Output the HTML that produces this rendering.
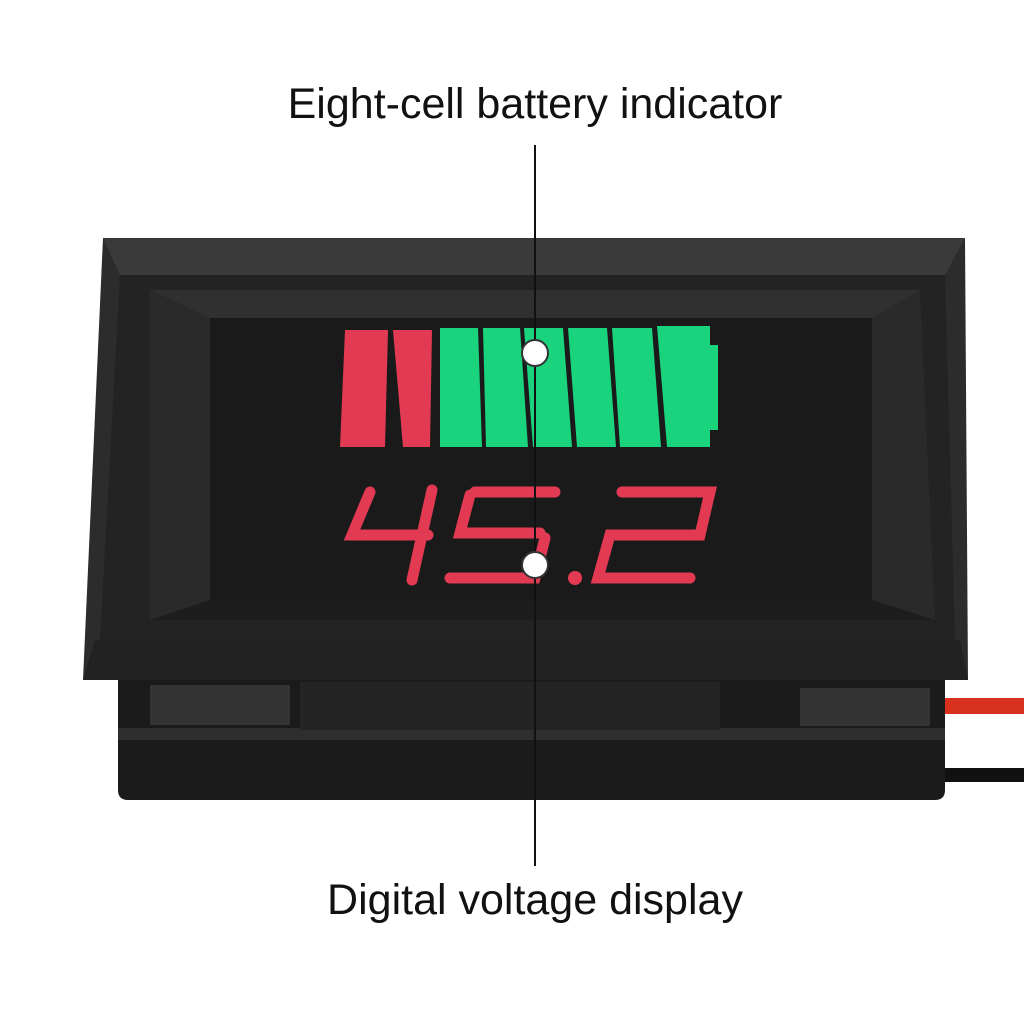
<!DOCTYPE html>
<html><head><meta charset="utf-8"><style>
html,body{margin:0;padding:0;background:#fff;}
.t{position:absolute;left:0;width:1070px;text-align:center;font-family:"Liberation Sans",sans-serif;font-size:43px;color:#111;letter-spacing:0px}
</style></head><body>
<div style="position:relative;width:1024px;height:1024px;overflow:hidden">
<svg width="1024" height="1024" style="position:absolute;left:0;top:0">
<rect x="930" y="698" width="100" height="16" fill="#d8321e"/>
<rect x="930" y="768" width="100" height="14" fill="#111"/>
<path d="M118 680 L945 680 L945 790 Q945 800 935 800 L128 800 Q118 800 118 790 Z" fill="#1b1b1b"/>
<rect x="118" y="728" width="827" height="12" fill="#2e2e2e"/>
<rect x="300" y="682" width="420" height="48" fill="#242424"/>
<rect x="150" y="685" width="140" height="40" fill="#333"/>
<rect x="800" y="688" width="130" height="38" fill="#333"/>
<path d="M103 238 L965 238 L968 680 L83 680 Z" fill="#2c2c2c"/>
<path d="M103 238 L965 238 L945 275 L120 275 Z" fill="#3a3a3a"/>
<path d="M95 640 L960 640 L968 680 L83 680 Z" fill="#222"/>
<path d="M120 275 L945 275 L955 640 L100 640 Z" fill="#232323"/>
<path d="M150 290 L920 290 L872 318 L210 318 Z" fill="#303030"/>
<path d="M150 290 L210 318 L210 600 L150 620 Z" fill="#2a2a2a"/>
<path d="M920 290 L872 318 L872 600 L935 620 Z" fill="#2a2a2a"/>
<path d="M210 600 L872 600 L935 620 L150 620 Z" fill="#1d1d1d"/>
<rect x="210" y="318" width="662" height="282" fill="#1a1a1a"/>
<g fill="#e23a52">
<path d="M345 330 L388 330 L385 447 L340 447 Z"/>
<path d="M393 330 L432 330 L430 447 L403 447 Z"/>
</g>
<g fill="#19d37d">
<path d="M440 328 L478 328 L482 447 L440 447 Z"/>
<path d="M483 328 L520 328 L528 447 L486 447 Z"/>
<path d="M524 328 L563 328 L572 447 L533 447 Z"/>
<path d="M568 328 L607 328 L616 447 L577 447 Z"/>
<path d="M612 328 L652 328 L661 447 L620 447 Z"/>
<path d="M657 326 L710 326 L710 345 L718 345 L718 430 L710 430 L710 447 L667 447 Z"/>
</g>
<g stroke="#e23a52" stroke-width="11" fill="none" stroke-linecap="round">
<path d="M370 492 L352 535 L428 535"/>
<path d="M432 490 L412 580"/>
<path d="M475 492 L555 492"/>
<path d="M470 495 L460 533 L540 533"/>
<path d="M545 538 L535 578 L450 578"/>
<path d="M622 492 L710 492 L700 535 L610 535 L598 578 L690 578"/>
</g>
<circle cx="575" cy="578" r="7" fill="#e23a52"/>
<line x1="535" y1="145" x2="535" y2="866" stroke="#111" stroke-width="2"/>
<circle cx="535" cy="353" r="13" fill="#fff" stroke="#333" stroke-width="2"/>
<circle cx="535" cy="565" r="13" fill="#fff" stroke="#333" stroke-width="2"/>
</svg>
<div class="t" style="top:80px">Eight-cell battery indicator</div>
<div class="t" style="top:876px">Digital voltage display</div>
</div>
</body></html>
